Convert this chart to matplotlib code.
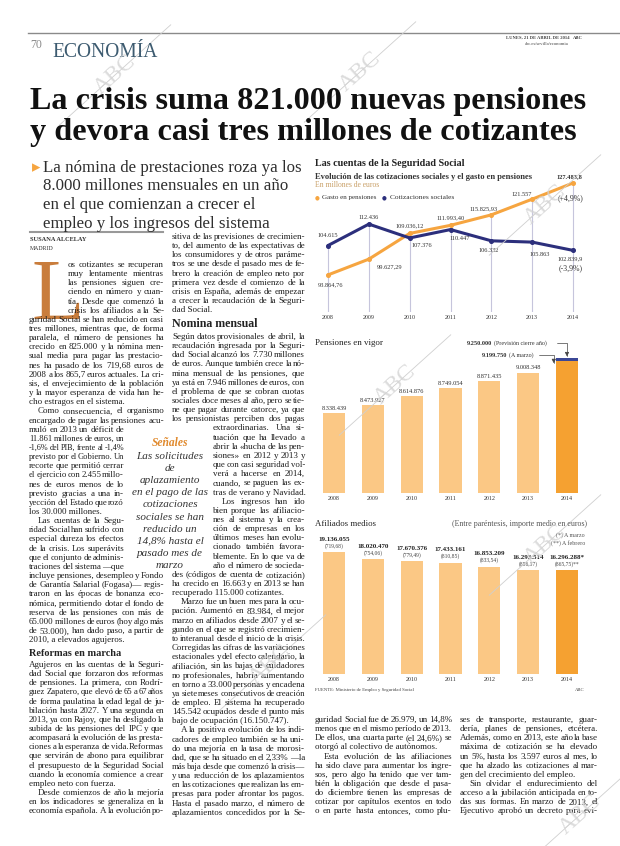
import math
import matplotlib
matplotlib.use('Agg')
import matplotlib.pyplot as plt
from matplotlib.font_manager import FontProperties
from matplotlib.lines import Line2D

W, H = 620, 846
SERIF = 'Liberation Serif'
plt.rcParams['font.family'] = [SERIF, 'DejaVu Serif']

ORANGE = '#f6a540'
LIGHT = '#fbc885'
DARK_BAR = '#f5a131'
NAVY = '#2c2f7c'
INK = '#1e1e1e'

# ---- chart data ----
years = ['2008', '2009', '2010', '2011', '2012', '2013', '2014']
gasto = [93864.76, 99627.29, 109036.12, 111993.40, 115825.93, 121557, 127483.8]
gasto_txt = ['93.864,76', '99.627,29', '109.036,12', '111.993,40', '115.825,93', '121.557', '127.483,8']
cotiz = [104615, 112436, 107376, 110447, 106332, 105863, 102839.9]
cotiz_txt = ['104.615', '112.436', '107.376', '110.447', '106.332', '105.863', '102.839,9']

pensiones = [8338439, 8473927, 8614876, 8749054, 8871435, 9008348, 9199750]
prevision_2014 = 9250000

afiliados = [19136055, 18020470, 17670376, 17433161, 16853209, 16293514, 16296288]
importe = [719.68, 754.06, 779.49, 810.85, 833.54, 856.37, 865.75]

fig = plt.figure(figsize=(W / 100, H / 100), dpi=100)
rend = fig.canvas.get_renderer()


def fx(x):
    return x / W


def fy(y):
    return 1 - y / H


def put(x, y, s, size, **kw):
    kw.setdefault('va', 'baseline')
    return fig.text(fx(x), fy(y), s, fontsize=size, **kw)


def width(s, size, weight='normal', style='normal'):
    fp = FontProperties(family=SERIF, size=size, weight=weight, style=style)
    return rend.get_text_width_height_descent(s, fp, ismath=False)[0]


def fit(x, y, s, w, **kw):
    size = 10 * w / width(s, 10, kw.get('weight', 'normal'), kw.get('style', 'normal'))
    put(x, y, s, size, **kw)
    return size


BODY = 6.5
STEP = 9.15


def block(lines, x0, x1, y, size=BODY):
    # justified newspaper lines; '~' = paragraph indent, '|' = paragraph end
    for ln in lines:
        a = x0 + (9 if ln.startswith('~') else 0)
        end = ln.endswith('|')
        ln = ln.strip('~|')
        words = ln.split()
        if end or len(words) < 2:
            put(a, y, ln, size, color=INK)
        else:
            sz = size
            ws = [width(w_, sz) for w_ in words]
            gap = (x1 - a - sum(ws)) / (len(words) - 1)
            if gap < 1.2:
                sz = size * (x1 - a - 1.2 * (len(words) - 1)) / sum(ws)
                ws = [width(w_, sz) for w_ in words]
                gap = (x1 - a - sum(ws)) / (len(words) - 1)
            xx = a
            for w_, wd in zip(words, ws):
                put(xx, y, w_, sz, color=INK)
                xx += wd + gap
        y += STEP
    return y


def mark(x, y, length=150, ang=42):
    # faint ABC watermark
    dx = math.cos(math.radians(ang)) * length / 2
    dy = math.sin(math.radians(ang)) * length / 2
    fig.add_artist(Line2D([fx(x - dx), fx(x + dx)], [fy(y + dy), fy(y - dy)],
                          transform=fig.transFigure, color='#cfcfcf', lw=0.6))
    fig.text(fx(x), fy(y), 'ABC', fontsize=17, color='#d4d4d4', rotation=ang,
             ha='center', va='center', alpha=0.8)


# ---- page header ----
fig.add_artist(Line2D([fx(28), fx(620)], [fy(33), fy(33)], transform=fig.transFigure,
                      color='#8a8a8a', lw=1.0))
put(30, 48, '70', 8.5, color='#8a8a8a')
fit(52, 57, 'ECONOMÍA', 106, color='#3d5b70')
put(569, 39, 'LUNES, 21 DE ABRIL DE 2014', 3.3, color='#444', ha='right', weight='bold')
put(573, 39, 'ABC', 3.3, color='#444', weight='bold')
put(569, 45, 'abc.es/sevilla/economia', 3.3, color='#444', ha='right')

hs = fit(30, 109, 'La crisis suma 821.000 nuevas pensiones', 557, weight='bold', color='#111')
put(30, 140, 'y devora casi tres millones de cotizantes', hs, weight='bold', color='#111')

# subhead
put(32, 172, '▸', 12, color=ORANGE, family='DejaVu Sans')
sub = ['La nómina de prestaciones roza ya los', '8.000 millones mensuales en un año',
       'en el que comienzan a crecer el', 'empleo y los ingresos del sistema']
ss = fit(43, 172, sub[0], 259, color='#2e2e2e')
for i, s in enumerate(sub[1:]):
    put(43, 172 + 18.5 * (i + 1), s, ss, color='#2e2e2e')

fig.add_artist(Line2D([fx(30), fx(163)], [fy(232), fy(232)], transform=fig.transFigure,
                      color='#999', lw=1.5))
put(30, 241, 'SUSANA ALCELAY', 4.6, weight='bold', color='#333')
put(30, 250, 'MADRID', 4.2, color='#333')

# ---- column 1 ----
put(31, 319, 'L', 62, color='#c97d3c')
col1_a = ['os cotizantes se recuperan', 'muy lentamente mientras', 'las pensiones siguen cre-',
          'ciendo en número y cuan-', 'tía. Desde que comenzó la', 'crisis los afiliados a la Se-']
col1_b = ['guridad Social se han reducido en casi', 'tres millones, mientras que, de forma',
          'paralela, el número de pensiones ha', 'crecido en 825.000 y la nómina men-',
          'sual media para pagar las prestacio-', 'nes ha pasado de los 719,68 euros de',
          '2008 a los 865,7 euros actuales. La cri-', 'sis, el envejecimiento de la población',
          'y la mayor esperanza de vida han he-', 'cho estragos en el sistema.|',
          '~Como consecuencia, el organismo', 'encargado de pagar las pensiones acu-']
col1_c = ['muló en 2013 un déficit de', '11.861 millones de euros, un', '-1,6% del PIB, frente al -1,4%',
          'previsto por el Gobierno. Un', 'recorte que permitió cerrar', 'el ejercicio con 2.455 millo-',
          'nes de euros menos de lo', 'previsto gracias a una in-', 'yección del Estado que rozó',
          'los 30.000 millones.|', '~Las cuentas de la Segu-', 'ridad Social han sufrido con',
          'especial dureza los efectos', 'de la crisis. Los superávits', 'que el conjunto de adminis-',
          'traciones del sistema —que']
col1_d = ['incluye pensiones, desempleo y Fondo', 'de Garantía Salarial (Fogasa)— regis-',
          'traron en las épocas de bonanza eco-', 'nómica, permitiendo dotar el fondo de',
          'reserva de las pensiones con más de', '65.000 millones de euros (hoy algo más',
          'de 53.000), han dado paso, a partir de', '2010, a elevados agujeros.|']
col1_e = ['Agujeros en las cuentas de la Seguri-', 'dad Social que forzaron dos reformas',
          'de pensiones. La primera, con Rodrí-', 'guez Zapatero, que elevó de 65 a 67 años',
          'de forma paulatina la edad legal de ju-', 'bilación hasta 2027. Y una segunda en',
          '2013, ya con Rajoy, que ha desligado la', 'subida de las pensiones del IPC y que',
          'acompasará la evolución de las presta-', 'ciones a la esperanza de vida. Reformas',
          'que servirán de abono para equilibrar', 'el presupuesto de la Seguridad Social',
          'cuando la economía comience a crear', 'empleo neto con fuerza.|',
          '~Desde comienzos de año la mejoría', 'en los indicadores se generaliza en la',
          'economía española. A la evolución po-']
y = block(col1_a, 68, 164, 267)
y = block(col1_b, 29, 164, y)
y = block(col1_c, 29, 124, y)
y = block(col1_d, 29, 164, y)
fit(29, 656, 'Reformas en marcha', 92, weight='bold', color='#222')
block(col1_e, 29, 164, 667)

# sidebar
put(170, 446, 'Señales', 8.3, color='#e0892c', weight='bold', style='italic', ha='center')
side = ['Las solicitudes', 'de', 'aplazamiento', 'en el pago de las', 'cotizaciones',
        'sociales se han', 'reducido un', '14,8% hasta el', 'pasado mes de', 'marzo']
for i, s in enumerate(side):
    put(170, 459 + 12.1 * i, s, 8.0, color='#333', style='italic', ha='center')

# ---- column 2 ----
col2_a = ['sitiva de las previsiones de crecimien-', 'to, del aumento de las expectativas de',
          'los consumidores y de otros paráme-', 'tros se une desde el pasado mes de fe-',
          'brero la creación de empleo neto por', 'primera vez desde el comienzo de la',
          'crisis en España, además de empezar', 'a crecer la recaudación de la Seguri-', 'dad Social.|']
col2_b = ['Según datos provisionales de abril, la', 'recaudación ingresada por la Seguri-',
          'dad Social alcanzó los 7.730 millones', 'de euros. Aunque también crece la nó-',
          'mina mensual de las pensiones, que', 'ya está en 7.946 millones de euros, con',
          'el problema de que se cobran cuotas', 'sociales doce meses al año, pero se tie-',
          'ne que pagar durante catorce, ya que', 'los pensionistas perciben dos pagas']
col2_c = ['extraordinarias. Una si-', 'tuación que ha llevado a', 'abrir la «hucha de las pen-',
          'siones» en 2012 y 2013 y', 'que con casi seguridad vol-', 'verá a hacerse en 2014,',
          'cuando, se paguen las ex-', 'tras de verano y Navidad.|', '~Los ingresos han ido',
          'bien porque las afiliacio-', 'nes al sistema y la crea-', 'ción de empresas en los',
          'últimos meses han evolu-', 'cionado también favora-', 'blemente. En lo que va de',
          'año el número de socieda-']
col2_d = ['des (códigos de cuenta de cotización)', 'ha crecido en 16.663 y en 2013 se han',
          'recuperado 115.000 cotizantes.|', '~Marzo fue un buen mes para la ocu-',
          'pación. Aumentó en 83.984, el mejor', 'marzo en afiliados desde 2007 y el se-',
          'gundo en el que se registró crecimien-', 'to interanual desde el inicio de la crisis.',
          'Corregidas las cifras de las variaciones', 'estacionales y del efecto calendario, la',
          'afiliación, sin las bajas de cuidadores', 'no profesionales, habría aumentando',
          'en torno a 33.000 personas y encadena', 'ya siete meses consecutivos de creación',
          'de empleo. El sistema ha recuperado', '145.542 ocupados desde el punto más',
          'bajo de ocupación (16.150.747).|', '~A la positiva evolución de los indi-',
          'cadores de empleo también se ha uni-', 'do una mejoría en la tasa de morosi-',
          'dad, que se ha situado en el 2,33% —la', 'más baja desde que comenzó la crisis—',
          'y una reducción de los aplazamientos', 'en las cotizaciones que realizan las em-',
          'presas para poder afrontar los pagos.', 'Hasta el pasado marzo, el número de',
          'aplazamientos concedidos por la Se-']
block(col2_a, 172, 305, 239)
fit(172, 327, 'Nomina mensual', 86, weight='bold', color='#222')
y = block(col2_b, 172, 305, 339)
y = block(col2_c, 213, 305, y)
block(col2_d, 172, 305, y)

# ---- column 3 text under the charts ----
col3_a = ['guridad Social fue de 26.979, un 14,8%', 'menos que en el mismo período de 2013.',
          'De ellos, una cuarta parte (el 24,6%) se', 'otorgó al colectivo de autónomos.|',
          '~Esta evolución de las afiliaciones', 'ha sido clave para aumentar los ingre-',
          'sos, pero algo ha tenido que ver tam-', 'bién la obligación que desde el pasa-',
          'do diciembre tienen las empresas de', 'cotizar por capítulos exentos en todo',
          'o en parte hasta entonces, como plu-']
col3_b = ['ses de transporte, restaurante, guar-', 'dería, planes de pensiones, etcétera.',
          'Además, como en 2013, este año la base', 'máxima de cotización se ha elevado',
          'un 5%, hasta los 3.597 euros al mes, lo', 'que ha alzado las cotizaciones al mar-',
          'gen del crecimiento del empleo.|', '~Sin olvidar el endurecimiento del',
          'acceso a la jubilación anticipada en to-', 'das sus formas. En marzo de 2013, el',
          'Ejecutivo aprobó un decreto para evi-']
block(col3_a, 315, 452, 722)
block(col3_b, 460, 598, 722)

# ---- chart 1: line chart ----
fit(315, 166, 'Las cuentas de la Seguridad Social', 150, weight='bold', color='#222')
fit(315, 179, 'Evolución de las cotizaciones sociales y el gasto en pensiones', 217,
    weight='bold', color='#333')
fit(315, 187, 'En millones de euros', 64, color='#c9a068')
put(314.5, 199, '●', 4, color=ORANGE, family='DejaVu Sans')
fit(322, 199, 'Gasto en pensiones', 55, color='#333')
put(382, 199, '●', 4, color=NAVY, family='DejaVu Sans')
fit(390, 199, 'Cotizaciones sociales', 64, color='#333')

ax1 = fig.add_axes([fx(317.8), fy(312), 265.4 / W, 140 / H])
ax1.set_xlim(-0.25, 6.25)
ax1.set_ylim(80300, 131500)
xs = list(range(len(years)))
ax1.vlines(xs, 80300, [max(g, c) for g, c in zip(gasto, cotiz)], color='#c6c5dc', lw=0.8)
ax1.plot(xs, gasto, color=ORANGE, lw=2.2, solid_capstyle='round')
ax1.plot(xs, cotiz, color=NAVY, lw=2.2, solid_capstyle='round')
ax1.plot(xs, gasto, 'o', color=ORANGE, ms=2.6)
ax1.plot(xs, cotiz, 'o', color=NAVY, ms=2.6)
g_off = [(2, 10), (21, 8), (0, -8), (0, -7), (-8, -6), (-10, -5), (-4, -6)]
c_off = [(0, -10), (0, -7), (12, 8), (9, 9), (-3, 10), (8, 12), (-3, 8)]
for i in xs:
    wt = 'bold' if i == 6 else 'normal'
    ax1.annotate(gasto_txt[i], (i, gasto[i]), xytext=(g_off[i][0] * 0.72, -g_off[i][1] * 0.72),
                 textcoords='offset points', ha='center', va='center', fontsize=4.6,
                 color='#333', weight=wt)
    ax1.annotate(cotiz_txt[i], (i, cotiz[i]), xytext=(c_off[i][0] * 0.72, -c_off[i][1] * 0.72),
                 textcoords='offset points', ha='center', va='center', fontsize=4.6, color='#333')
ax1.annotate('(+4,9%)', (6, gasto[6]), xytext=(-1.5, -11), textcoords='offset points',
             ha='center', va='center', fontsize=5.6, color='#333')
ax1.annotate('(-3,9%)', (6, cotiz[6]), xytext=(-1.5, -13), textcoords='offset points',
             ha='center', va='center', fontsize=5.6, color='#333')
ax1.set_xticks(xs, years)
ax1.tick_params(length=0, pad=2, labelsize=4.3, labelcolor='#333')
ax1.set_yticks([])
for sp in ax1.spines.values():
    sp.set_visible(False)
ax1.patch.set_alpha(0)

# ---- chart 2: pensiones en vigor ----
fit(315, 345, 'Pensiones en vigor', 68, color='#222')
ax2 = fig.add_axes([fx(314.6), fy(493), 271.8 / W, 148 / H])
ax2.set_xlim(-0.5, 6.5)
ax2.set_ylim(7012600, 9464700)
colors2 = [LIGHT] * 6 + [DARK_BAR]
ax2.bar(xs, [p - 7012600 for p in pensiones], bottom=7012600, width=0.57, color=colors2)
ax2.bar(6, prevision_2014 - pensiones[6], bottom=pensiones[6], width=0.57, color='#3b4796')
for i in xs[:6]:
    lab = f'{pensiones[i]:,}'.replace(',', '.')
    ax2.annotate(lab, (i, pensiones[i]), xytext=(0, 1.5), textcoords='offset points',
                 ha='center', va='bottom', fontsize=4.6, color='#333')
ax2.annotate('', xy=(6, prevision_2014), xytext=(557, H - 343), textcoords='figure pixels',
             arrowprops=dict(arrowstyle='-|>,head_length=0.25,head_width=0.12', lw=0.5,
                             color='#444', connectionstyle='angle,angleA=0,angleB=90,rad=0',
                             shrinkA=0, shrinkB=1))
ax2.annotate('', xy=(5.66, pensiones[6] - 40000), xytext=(539, H - 355), textcoords='figure pixels',
             arrowprops=dict(arrowstyle='-|>,head_length=0.25,head_width=0.12', lw=0.5,
                             color='#444', connectionstyle='angle,angleA=0,angleB=90,rad=0',
                             shrinkA=0, shrinkB=0))
t = f'{prevision_2014:,}'.replace(',', '.')
put(467, 345, t, 4.6, weight='bold', color='#333')
put(467 + width(t, 4.6, 'bold') + 1.5, 345, '(Previsión cierre año)', 4.3, color='#333')
t = f'{pensiones[6]:,}'.replace(',', '.')
put(482, 357, t, 4.6, weight='bold', color='#333')
put(482 + width(t, 4.6, 'bold') + 1.5, 357, '(A marzo)', 4.3, color='#333')
ax2.set_xticks(xs, years)
ax2.tick_params(length=0, pad=2.5, labelsize=4.3, labelcolor='#333')
ax2.set_yticks([])
for sp in ax2.spines.values():
    sp.set_visible(False)
ax2.patch.set_alpha(0)

# ---- chart 3: afiliados medios ----
fit(315, 526, 'Afiliados medios', 60, color='#222')
fit(452, 526, '(Entre paréntesis, importe medio en euros)', 135, color='#555')
put(585, 537, '(*) A marzo', 4.3, color='#555', ha='right')
put(585, 545, '(**) A febrero', 4.3, color='#555', ha='right')
ax3 = fig.add_axes([fx(314.6), fy(674), 271.8 / W, 154 / H])
ax3.set_xlim(-0.5, 6.5)
ax3.set_ylim(0, 24155000)
ax3.bar(xs, afiliados, width=0.57, color=colors2)
for i in xs:
    num = f'{afiliados[i]:,}'.replace(',', '.') + ('*' if i == 6 else '')
    imp = '(' + f'{importe[i]:.2f}'.replace('.', ',') + ')' + ('**' if i == 6 else '')
    ax3.annotate(imp, (i, afiliados[i]), xytext=(0, 2.5), textcoords='offset points',
                 ha='center', va='bottom', fontsize=4.0, color='#444')
    ax3.annotate(num, (i, afiliados[i]), xytext=(0, 7.5), textcoords='offset points',
                 ha='center', va='bottom', fontsize=5.0, color='#222', weight='bold')
ax3.set_xticks(xs, years)
ax3.tick_params(length=0, pad=2.5, labelsize=4.3, labelcolor='#333')
ax3.set_yticks([])
for sp in ax3.spines.values():
    sp.set_visible(False)
ax3.patch.set_alpha(0)
put(315, 691, 'FUENTE: Ministerio de Empleo y Seguridad Social', 3.4, color='#444')
put(585, 691, 'ABC', 3.4, color='#444', ha='right')

# watermarks
for wx, wy in [(115, 75), (360, 72), (545, 205), (395, 385), (545, 545), (270, 665), (580, 815)]:
    mark(wx, wy)

fig.savefig('out.png', dpi=100)
